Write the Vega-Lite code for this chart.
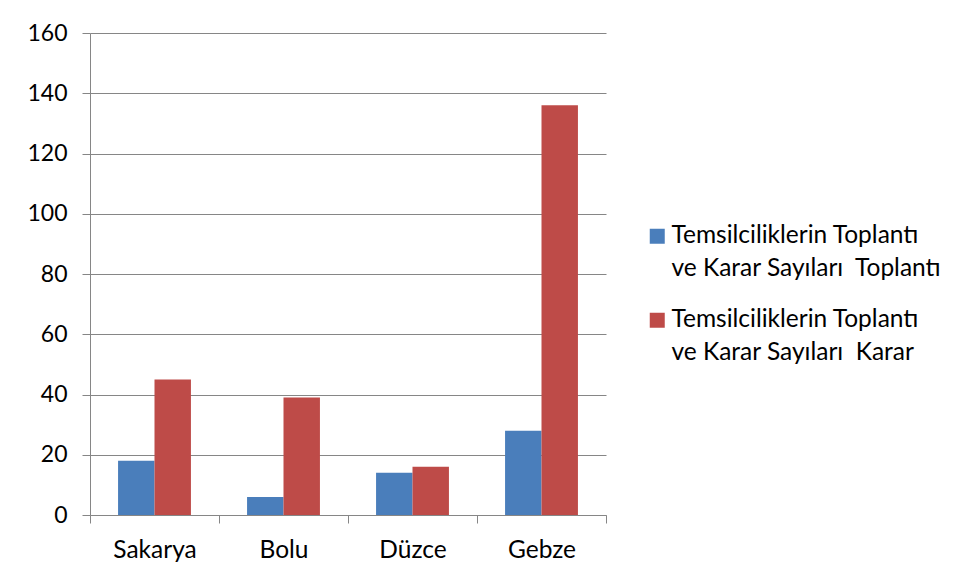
{
  "$schema": "https://vega.github.io/schema/vega-lite/v6.json",
  "autosize": "none",
  "padding": {"left": 90, "top": 33, "right": 356, "bottom": 63},
  "width": 516,
  "height": 482,
  "background": "white",
  "config": {
    "view": {"stroke": null},
    "font": "Lato",
    "axis": {"labelFont": "Lato", "labelColor": "#000000", "domainColor": "#868686", "tickColor": "#868686", "gridColor": "#868686", "tickSize": 8}
  },
  "data": {
    "values": [
      {"city": "Sakarya", "series": "Toplantı", "value": 18},
      {"city": "Sakarya", "series": "Karar", "value": 45},
      {"city": "Bolu", "series": "Toplantı", "value": 6},
      {"city": "Bolu", "series": "Karar", "value": 39},
      {"city": "Düzce", "series": "Toplantı", "value": 14},
      {"city": "Düzce", "series": "Karar", "value": 16},
      {"city": "Gebze", "series": "Toplantı", "value": 28},
      {"city": "Gebze", "series": "Karar", "value": 136}
    ]
  },
  "mark": {"type": "bar"},
  "encoding": {
    "x": {
      "field": "city", "type": "nominal", "sort": ["Sakarya", "Bolu", "Düzce", "Gebze"],
      "scale": {"paddingInner": 0, "paddingOuter": 0},
      "axis": {"title": null, "labelAngle": 0, "labelFontSize": 24.5, "labelBaseline": "alphabetic", "labelPadding": 34, "tickBand": "extent", "grid": false, "domainColor": "#868686"}
    },
    "xOffset": {
      "field": "series", "type": "nominal", "sort": ["Toplantı", "Karar"],
      "scale": {"paddingInner": 0, "paddingOuter": 0.77}
    },
    "y": {
      "field": "value", "type": "quantitative",
      "scale": {"domain": [0, 160], "nice": false},
      "axis": {"title": null, "values": [0, 20, 40, 60, 80, 100, 120, 140, 160], "labelFontSize": 23, "labelPadding": 15, "grid": true, "gridWidth": 1, "tickSize": 8}
    },
    "color": {
      "field": "series", "type": "nominal", "sort": ["Toplantı", "Karar"],
      "scale": {"domain": ["Toplantı", "Karar"], "range": ["#4a7ebb", "#be4b48"]},
      "legend": {
        "title": null,
        "orient": "none",
        "legendX": 555,
        "legendY": 191,
        "padding": 0,
        "symbolType": "square",
        "symbolSize": 225,
        "symbolStrokeWidth": 0,
        "labelFont": "Lato",
        "labelFontSize": 24.5,
        "labelColor": "#000000",
        "labelLimit": 400,
        "labelOffset": 2,
        "labelBaseline": "middle",
        "rowPadding": 26,
        "labelExpr": "['Temsilciliklerin Toplantı', 've Karar Sayıları\u00a0 ' + datum.label]",
        "encode": {"labels": {"update": {"lineHeight": {"value": 32.5}}}}
      }
    }
  }
}
